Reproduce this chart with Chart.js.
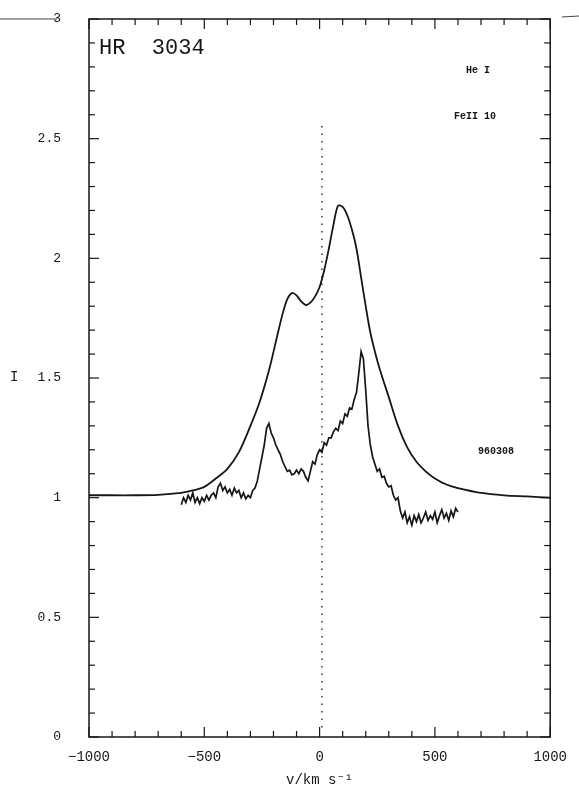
<!DOCTYPE html>
<html>
<head>
<meta charset="utf-8">
<script src="https://cdn.jsdelivr.net/npm/chart.js@4/dist/chart.umd.min.js"></script>
<style>
  html, body { margin:0; padding:0; background:#fff; }
  canvas { display:block; }
</style>
</head>
<body>
<canvas id="profile" width="579" height="790"></canvas>
<script>
// smooth profile (He I)
const velUpper = [-1000,-900,-800,-700,-600,-550,-500,-450,-400,-350,-300,-260,-220,-190,-160,-140,-120,-100,-80,-60,-40,-20,0,20,40,60,80,100,120,140,160,180,200,220,240,260,300,340,380,420,460,500,550,600,700,800,900,1000];
const fluxUpper = [1.01,1.01,1.01,1.012,1.02,1.03,1.045,1.08,1.12,1.19,1.30,1.40,1.53,1.65,1.77,1.83,1.855,1.845,1.82,1.805,1.815,1.84,1.88,1.95,2.04,2.14,2.22,2.215,2.18,2.12,2.04,1.92,1.80,1.69,1.61,1.54,1.42,1.30,1.21,1.15,1.11,1.08,1.055,1.04,1.02,1.01,1.005,1.0];

// noisy profile (Fe II 10)
const velLower = [-600,-590,-580,-570,-560,-550,-540,-530,-520,-510,-500,-490,-480,-470,-460,-450,-440,-430,-420,-410,-400,-390,-380,-370,-360,-350,-340,-330,-320,-310,-300,-290,-280,-270,-260,-250,-240,-230,-220,-210,-200,-190,-180,-170,-160,-150,-140,-130,-120,-110,-100,-90,-80,-70,-60,-50,-40,-30,-20,-10,0,10,20,30,40,50,60,70,80,90,100,110,120,130,140,150,160,170,180,190,200,210,220,230,240,250,260,270,280,290,300,310,320,330,340,350,360,370,380,390,400,410,420,430,440,450,460,470,480,490,500,510,520,530,540,550,560,570,580,590,600];
const fluxLower = [0.97,1.00,0.98,1.01,0.99,1.02,0.98,1.00,0.975,1.00,0.985,1.01,0.99,1.01,1.02,1.00,1.045,1.06,1.03,1.045,1.02,1.035,1.01,1.04,1.02,1.03,1.00,1.02,0.995,1.01,1.00,1.03,1.04,1.07,1.12,1.17,1.22,1.29,1.31,1.27,1.25,1.22,1.20,1.18,1.15,1.13,1.11,1.115,1.095,1.10,1.115,1.10,1.12,1.11,1.085,1.07,1.11,1.15,1.14,1.18,1.20,1.19,1.23,1.22,1.25,1.25,1.275,1.29,1.28,1.32,1.31,1.35,1.34,1.375,1.37,1.41,1.44,1.52,1.61,1.58,1.45,1.30,1.22,1.17,1.14,1.11,1.12,1.085,1.09,1.06,1.045,1.05,1.01,0.99,1.00,0.945,0.915,0.94,0.895,0.92,0.885,0.925,0.90,0.93,0.895,0.915,0.94,0.905,0.925,0.91,0.94,0.895,0.925,0.95,0.915,0.935,0.905,0.945,0.92,0.955,0.94];

// rest velocity marker
const velDot = [10, 10];
const fluxDot = [0.04, 2.56];

const toXY = (xs, ys) => xs.map((v, i) => ({x: v, y: ys[i]}));
const ink = '#161616';
const monoFont = "'Liberation Mono', 'DejaVu Sans Mono', monospace";

const frameTicks = {
    id: 'frameTicks',
    afterDraw(chart) {
        const {ctx, chartArea: a, scales: {x, y}} = chart;
        ctx.save();
        ctx.strokeStyle = ink;
        ctx.lineWidth = 1.5;
        ctx.strokeRect(a.left, a.top, a.width, a.height);
        ctx.lineWidth = 1.2;
        const seg = (x1, y1, x2, y2) => { ctx.beginPath(); ctx.moveTo(x1, y1); ctx.lineTo(x2, y2); ctx.stroke(); };
        x.ticks.forEach(t => {
            const px = x.getPixelForValue(t.value);
            const len = t.value % 500 === 0 ? 10 : 6;
            seg(px, a.bottom, px, a.bottom - len);
            seg(px, a.top, px, a.top + len);
        });
        y.ticks.forEach(t => {
            const py = y.getPixelForValue(t.value);
            const major = Math.abs(t.value * 2 - Math.round(t.value * 2)) < 1e-6;
            const len = major ? 10 : 6;
            seg(a.left, py, a.left + len, py);
            seg(a.right, py, a.right - len, py);
        });
        // scan edge marks
        ctx.strokeStyle = '#444';
        ctx.lineWidth = 1;
        seg(0, 19, 57, 19);
        seg(562, 17, 579, 16);

        ctx.fillStyle = ink;
        ctx.textBaseline = 'middle';
        ctx.textAlign = 'left';
        ctx.font = '22px ' + monoFont;
        ctx.fillText('HR  3034', 99, 48);
        ctx.font = 'bold 10px ' + monoFont;
        ctx.fillText('He I', 466, 70);
        ctx.fillText('FeII 10', 454, 116);
        ctx.fillText('960308', 478, 451);
        ctx.font = '14px ' + monoFont;
        ctx.fillText('I', 10, 377);
        ctx.restore();
    }
};

new Chart(document.getElementById('profile').getContext('2d'), {
    type: 'line',
    data: {
        datasets: [
            {
                data: toXY(velUpper, fluxUpper),
                borderColor: ink,
                borderWidth: 1.8,
                tension: 0.3,
                pointRadius: 0
            },
            {
                data: toXY(velLower, fluxLower),
                borderColor: ink,
                borderWidth: 1.7,
                tension: 0,
                pointRadius: 0
            },
            {
                data: toXY(velDot, fluxDot),
                borderColor: '#333',
                borderWidth: 1.5,
                borderDash: [1.5, 6],
                pointRadius: 0
            }
        ]
    },
    options: {
        responsive: false,
        animation: false,
        devicePixelRatio: 1,
        layout: {padding: {top: 19, right: 27, left: 0, bottom: 0}},
        scales: {
            x: {
                type: 'linear',
                min: -1000,
                max: 1000,
                grid: {display: false, drawTicks: false},
                border: {display: false},
                ticks: {
                    stepSize: 100,
                    autoSkip: false,
                    maxRotation: 0,
                    padding: 12,
                    color: ink,
                    font: {family: monoFont, size: 14},
                    callback: v => v % 500 === 0 ? String(v).replace('-', '\u2212') : ''
                },
                title: {
                    display: true,
                    text: 'v/km s\u207B\u00B9',
                    color: ink,
                    font: {family: monoFont, size: 14},
                    padding: {top: 0, bottom: 1}
                },
                afterFit: s => { s.height = 53; }
            },
            y: {
                min: 0,
                max: 3,
                grid: {display: false, drawTicks: false},
                border: {display: false},
                ticks: {
                    stepSize: 0.1,
                    autoSkip: false,
                    padding: 28,
                    color: ink,
                    font: {family: monoFont, size: 13},
                    callback: v => {
                        const r = Math.round(v * 10) / 10;
                        return Math.abs(r * 2 - Math.round(r * 2)) < 1e-6 ? String(r) : '';
                    }
                },
                afterFit: s => { s.width = 89; s.paddingTop = 8; s.paddingBottom = 8; }
            }
        },
        plugins: {
            legend: {display: false},
            tooltip: {enabled: false}
        }
    },
    plugins: [frameTicks]
});
</script>
</body>
</html>
